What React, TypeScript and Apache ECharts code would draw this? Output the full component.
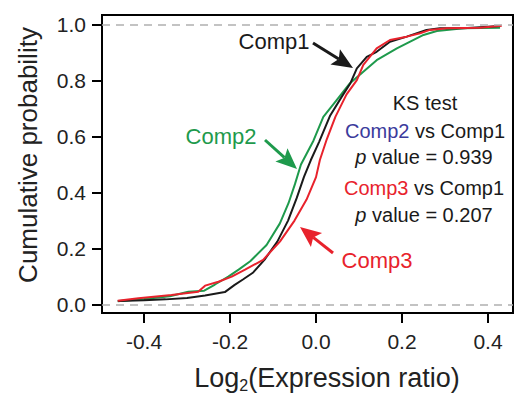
import React, { useEffect, useRef } from "react";
import * as echarts from "echarts";

const xTicks = [-0.4, -0.2, 0, 0.2, 0.4];
const yTicks = [0, 0.2, 0.4, 0.6, 0.8, 1.0];

const comp1 = [
  [-0.461, 0.013], [-0.4, 0.016], [-0.35, 0.019], [-0.3, 0.024], [-0.258, 0.033],
  [-0.212, 0.045], [-0.19, 0.07], [-0.17, 0.09], [-0.146, 0.115], [-0.12, 0.16],
  [-0.09, 0.225], [-0.065, 0.3], [-0.045, 0.38], [-0.028, 0.456], [-0.012, 0.516],
  [0.007, 0.58], [0.033, 0.675], [0.06, 0.742], [0.08, 0.79], [0.095, 0.843],
  [0.118, 0.884], [0.141, 0.902], [0.172, 0.938], [0.211, 0.956], [0.257, 0.98],
  [0.288, 0.986], [0.343, 0.986], [0.428, 0.994],
];

const comp2 = [
  [-0.461, 0.012], [-0.4, 0.02], [-0.34, 0.03], [-0.297, 0.046], [-0.26, 0.05],
  [-0.235, 0.072], [-0.204, 0.1], [-0.18, 0.125], [-0.153, 0.155], [-0.115, 0.213],
  [-0.084, 0.29], [-0.064, 0.362], [-0.049, 0.43], [-0.035, 0.5], [-0.006, 0.585],
  [0.017, 0.67], [0.048, 0.73], [0.079, 0.79], [0.11, 0.831], [0.141, 0.872],
  [0.188, 0.914], [0.219, 0.938], [0.25, 0.962], [0.281, 0.976], [0.343, 0.986],
  [0.428, 0.988],
];

const comp3 = [
  [-0.461, 0.014], [-0.413, 0.023], [-0.336, 0.035], [-0.274, 0.046], [-0.258, 0.068],
  [-0.227, 0.082], [-0.196, 0.1], [-0.165, 0.125], [-0.123, 0.16], [-0.084, 0.225],
  [-0.05, 0.3], [-0.022, 0.375], [0.0, 0.455], [0.009, 0.516], [0.025, 0.59],
  [0.045, 0.67], [0.071, 0.75], [0.095, 0.801], [0.11, 0.855], [0.141, 0.914],
  [0.172, 0.944], [0.211, 0.956], [0.242, 0.968], [0.265, 0.98], [0.304, 0.986],
  [0.381, 0.988], [0.432, 0.995],
];

const FONT = '"Liberation Sans", Arial, Helvetica, sans-serif';
const BLACK = "#1a1a1a";
const GREEN = "#1e9a4c";
const RED = "#e8222c";
const BLUE = "#3b3b9c";

function arrow(x1: number, y1: number, x2: number, y2: number, color: string) {
  const headLen = 21;
  const headW = 18;
  const dx = x2 - x1;
  const dy = y2 - y1;
  const L = Math.hypot(dx, dy);
  const ux = dx / L;
  const uy = dy / L;
  const px = -uy;
  const py = ux;
  const bx = x2 - ux * headLen;
  const by = y2 - uy * headLen;
  const nx = x2 - ux * headLen * 0.8;
  const ny = y2 - uy * headLen * 0.8;
  return [
    {
      type: "line",
      shape: { x1, y1, x2: nx, y2: ny },
      style: { stroke: color, lineWidth: 3 },
    },
    {
      type: "polygon",
      shape: {
        points: [
          [x2, y2],
          [bx + (px * headW) / 2, by + (py * headW) / 2],
          [nx, ny],
          [bx - (px * headW) / 2, by - (py * headW) / 2],
        ],
      },
      style: { fill: color },
    },
  ];
}

function txt(x: number, y: number, text: string, fill: string, fontSize: number, rich?: any) {
  return {
    type: "text",
    x,
    y,
    style: {
      text,
      fill,
      fontSize,
      fontFamily: FONT,
      align: "center",
      verticalAlign: "middle",
      rich,
    },
  };
}

export default function App() {
  const ref = useRef<HTMLDivElement>(null);
  useEffect(() => {
    if (!ref.current) return;
    const chart = echarts.init(ref.current, undefined, { renderer: "svg" });
    const ks = 20;
    const part = (fill: string, extra: any = {}) => ({ fill, fontSize: ks, fontFamily: FONT, ...extra });
    chart.setOption({
      animation: false,
      grid: {
        left: 102,
        top: 15,
        right: 3,
        bottom: 83,
        show: true,
        borderColor: "#000",
        borderWidth: 2,
        backgroundColor: "transparent",
      },
      xAxis: {
        type: "value",
        min: -0.4977,
        max: 0.4581,
        axisLine: { show: true, onZero: false, lineStyle: { color: "#000", width: 2 } },
        axisTick: { show: true, inside: false, length: 10, lineStyle: { color: "#000", width: 2 }, customValues: xTicks },
        axisLabel: {
          customValues: xTicks,
          formatter: (v: number) => v.toFixed(1),
          fontSize: 21,
          fontFamily: FONT,
          color: "#222",
          margin: 18,
        },
        splitLine: { show: false },
      },
      yAxis: {
        type: "value",
        min: -0.0296,
        max: 1.0332,
        axisLine: { show: true, onZero: false, lineStyle: { color: "#000", width: 2 } },
        axisTick: { show: true, inside: false, length: 10, lineStyle: { color: "#000", width: 2 }, customValues: yTicks },
        axisLabel: {
          customValues: yTicks,
          formatter: (v: number) => v.toFixed(1),
          fontSize: 21,
          fontFamily: FONT,
          color: "#222",
          margin: 16,
        },
        splitLine: { show: false },
      },
      series: [
        {
          name: "Comp2",
          type: "line",
          data: comp2,
          showSymbol: false,
          lineStyle: { color: GREEN, width: 2 },
          markLine: {
            silent: true,
            symbol: "none",
            label: { show: false },
            lineStyle: { color: "#b0b0b0", type: [8, 6], width: 1.5 },
            data: [{ yAxis: 0 }, { yAxis: 1 }],
          },
        },
        {
          name: "Comp1",
          type: "line",
          data: comp1,
          showSymbol: false,
          lineStyle: { color: BLACK, width: 2 },
        },
        {
          name: "Comp3",
          type: "line",
          data: comp3,
          showSymbol: false,
          lineStyle: { color: RED, width: 2 },
        },
      ],
      graphic: [
        {
          type: "text",
          x: 28,
          y: 155,
          rotation: Math.PI / 2,
          style: {
            text: "Cumulative probability",
            fill: "#222",
            fontSize: 26,
            fontFamily: FONT,
            align: "center",
            verticalAlign: "middle",
          },
        },
        {
          type: "text",
          x: 327,
          y: 378,
          style: {
            text: "{a|Log}{s|2}{a|(Expression ratio)}",
            fill: "#222",
            fontSize: 27,
            fontFamily: FONT,
            align: "center",
            verticalAlign: "middle",
            rich: {
              a: { fill: "#222", fontSize: 27, fontFamily: FONT, lineHeight: 31 },
              s: { fill: "#222", fontSize: 16, fontFamily: FONT, lineHeight: 16, verticalAlign: "bottom" },
            },
          },
        },
        txt(274, 41, "Comp1", BLACK, 22),
        ...arrow(313, 43, 353, 68, BLACK),
        txt(221, 136, "Comp2", GREEN, 22),
        ...arrow(265, 140, 297, 169, GREEN),
        txt(377, 260, "Comp3", RED, 22),
        ...arrow(333, 253, 300, 227, RED),
        txt(425, 103, "KS test", BLACK, ks),
        txt(425, 131, "{b|Comp2}{k| vs Comp1}", BLACK, ks, { b: part(BLUE), k: part(BLACK) }),
        txt(424, 157, "{i|p}{k| value = 0.939}", BLACK, ks, { i: part(BLACK, { fontStyle: "italic" }), k: part(BLACK) }),
        txt(424, 188, "{r|Comp3}{k| vs Comp1}", BLACK, ks, { r: part(RED), k: part(BLACK) }),
        txt(424, 215, "{i|p}{k| value = 0.207}", BLACK, ks, { i: part(BLACK, { fontStyle: "italic" }), k: part(BLACK) }),
      ],
    });
    return () => chart.dispose();
  }, []);
  return (
    <div
      ref={ref}
      style={{ position: "fixed", left: 0, top: 0, width: 516, height: 396, background: "#fff" }}
    />
  );
}
